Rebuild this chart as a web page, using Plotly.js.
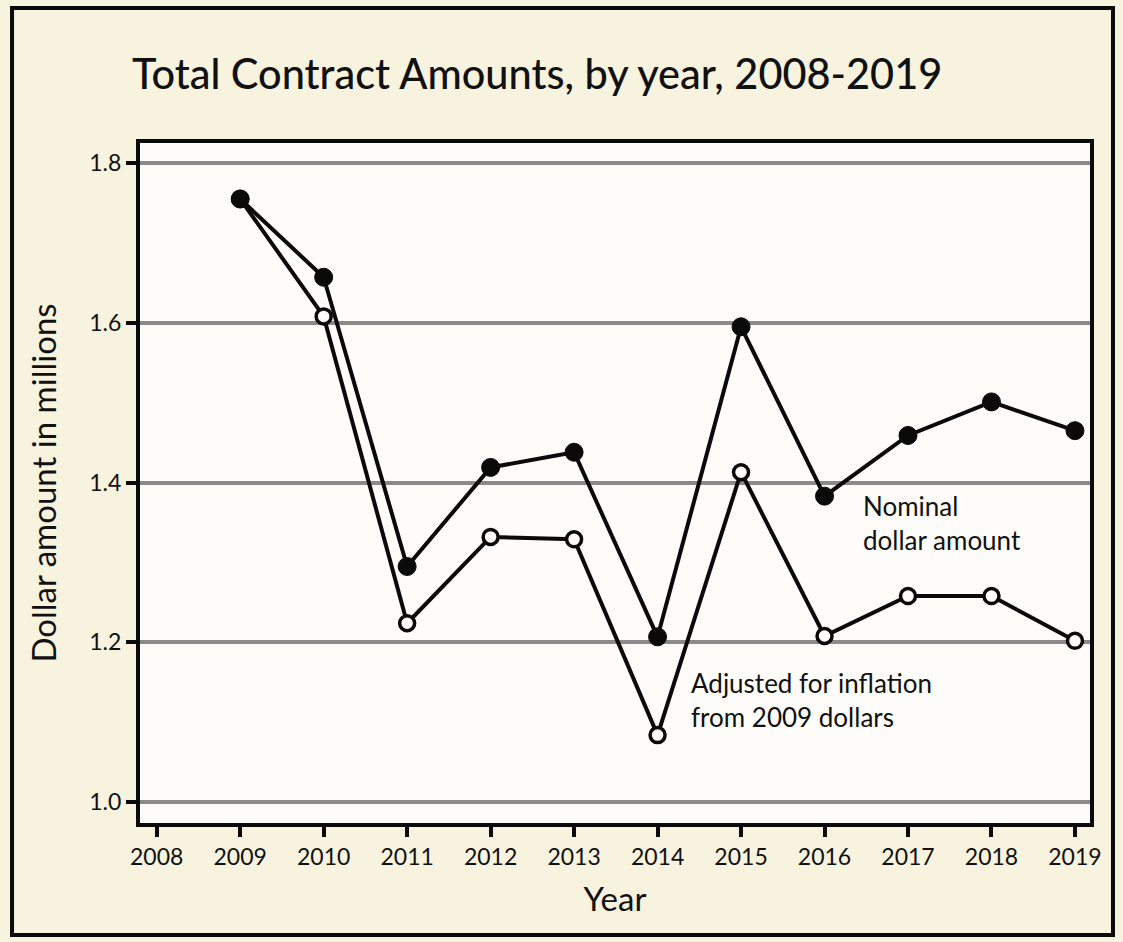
<!DOCTYPE html>
<html>
<head>
<meta charset="utf-8">
<script src="https://cdn.plot.ly/plotly-3.0.1.min.js"></script>
<style>
html,body{margin:0;padding:0;background:#f8f3df;}
#chart{width:1123px;height:942px;}
</style>
</head>
<body>
<div id="chart"></div>
<script>
const years = [2009, 2010, 2011, 2012, 2013, 2014, 2015, 2016, 2017, 2018, 2019];
const nominal = [1.755, 1.657, 1.295, 1.419, 1.438, 1.207, 1.595, 1.383, 1.459, 1.501, 1.465];
const adjusted = [1.755, 1.608, 1.224, 1.332, 1.329, 1.084, 1.413, 1.208, 1.258, 1.258, 1.202];
const xTicks = [2008, 2009, 2010, 2011, 2012, 2013, 2014, 2015, 2016, 2017, 2018, 2019];
const yTicks = [1.0, 1.2, 1.4, 1.6, 1.8];
const yTickLabels = ['1.0', '1.2', '1.4', '1.6', '1.8'];

const FONT = 'Lato, "Open Sans", sans-serif';

const traces = [
  {
    x: years, y: adjusted, mode: 'lines+markers', name: 'Adjusted for inflation',
    line: {color: '#0a0a0a', width: 4},
    marker: {symbol: 'circle', size: 15, color: '#fdfcf8', line: {color: '#0a0a0a', width: 3.5}},
    hoverinfo: 'x+y'
  },
  {
    x: years, y: nominal, mode: 'lines+markers', name: 'Nominal dollar amount',
    line: {color: '#0a0a0a', width: 4},
    marker: {symbol: 'circle', size: 18, color: '#0a0a0a', line: {color: '#0a0a0a', width: 1}},
    hoverinfo: 'x+y'
  }
];

const layout = {
  width: 1123, height: 942,
  paper_bgcolor: '#f8f3df',
  plot_bgcolor: '#fdfcf8',
  margin: {l: 140, r: 33, t: 143, b: 119},
  showlegend: false,
  font: {family: FONT, color: '#111'},
  title: {
    text: 'Total Contract Amounts, by year, 2008-2019',
    font: {family: FONT, size: 41.5, color: '#111', weight: 500},
    xref: 'paper', x: 0.418, xanchor: 'center',
    yref: 'container', y: 0.921, yanchor: 'middle'
  },
  xaxis: {
    range: [2007.8, 2019.18],
    tickvals: xTicks, ticktext: xTicks.map(String),
    ticks: 'outside', ticklen: 10, tickwidth: 4, tickcolor: '#0a0a0a',
    tickfont: {size: 23, family: FONT, color: '#111'},
    showgrid: false, zeroline: false,
    showline: true, linecolor: '#0a0a0a', linewidth: 4, mirror: true,
    title: {text: 'Year', font: {size: 33, family: FONT, color: '#111'}, standoff: 20}
  },
  yaxis: {
    range: [0.974, 1.825],
    tickvals: yTicks, ticktext: yTickLabels,
    ticks: 'outside', ticklen: 10, tickwidth: 4, tickcolor: '#0a0a0a',
    tickfont: {size: 23, family: FONT, color: '#111'},
    showgrid: true, gridcolor: '#8a8a8a', gridwidth: 4,
    zeroline: false,
    showline: true, linecolor: '#0a0a0a', linewidth: 4, mirror: true,
    title: {text: 'Dollar amount in millions', font: {size: 33, family: FONT, color: '#111'}, standoff: 24}
  },
  annotations: [
    {x: 2016.44, y: 1.393, xref: 'x', yref: 'y', xanchor: 'left', yanchor: 'top', align: 'left',
     showarrow: false, text: 'Nominal<br>dollar amount', font: {size: 26, family: FONT, color: '#111'}},
    {x: 2014.38, y: 1.172, xref: 'x', yref: 'y', xanchor: 'left', yanchor: 'top', align: 'left',
     showarrow: false, text: 'Adjusted for inflation<br>from 2009 dollars', font: {size: 26, family: FONT, color: '#111'}}
  ],
  shapes: [
    {type: 'rect', xref: 'paper', yref: 'paper', x0: -0.1347, x1: 1.0242, y0: -0.1647, y1: 1.1985,
     line: {color: '#0a0a0a', width: 4}, fillcolor: 'rgba(0,0,0,0)', layer: 'below'}
  ]
};

Plotly.newPlot('chart', traces, layout, {displayModeBar: false, staticPlot: true});
</script>
</body>
</html>
